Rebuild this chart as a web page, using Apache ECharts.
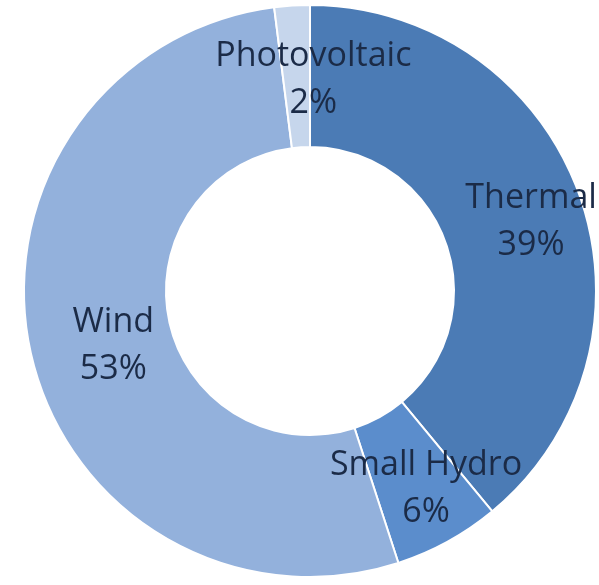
<!DOCTYPE html>
<html>
<head>
<meta charset="utf-8">
<script src="https://cdn.jsdelivr.net/npm/echarts@6/dist/echarts.min.js"></script>
<style>html,body{margin:0;padding:0;background:#fff;}#c{width:599px;height:585px;}</style>
</head>
<body>
<div id="c"></div>
<script>
const categories = ['Thermal', 'Small Hydro', 'Wind', 'Photovoltaic'];
const values = [39, 6, 53, 2];
const colors = ['#4b7bb5', '#5b8dcc', '#93b1dc', '#c6d6ec'];
const labelOffsets = [[16, 5], [11, 7], [16, 7], [17, 6]];

const chart = echarts.init(document.getElementById('c'), null, {renderer: 'canvas'});
chart.setOption({
  animation: false,
  series: [{
    type: 'pie',
    center: [310, 291],
    radius: [144, 286],
    startAngle: 90,
    clockwise: true,
    avoidLabelOverlap: false,
    itemStyle: {borderColor: '#ffffff', borderWidth: 2},
    label: {
      show: true,
      position: 'inside',
      formatter: p => p.name + '\n' + Math.round(p.percent) + '%',
      fontFamily: 'Open Sans',
      fontSize: 34,
      lineHeight: 47,
      color: '#1b2b47',
      align: 'center'
    },
    labelLine: {show: false},
    emphasis: {disabled: true},
    data: categories.map((n, i) => ({
      name: n,
      value: values[i],
      itemStyle: {color: colors[i]},
      label: {offset: labelOffsets[i]}
    }))
  }]
});
</script>
</body>
</html>
